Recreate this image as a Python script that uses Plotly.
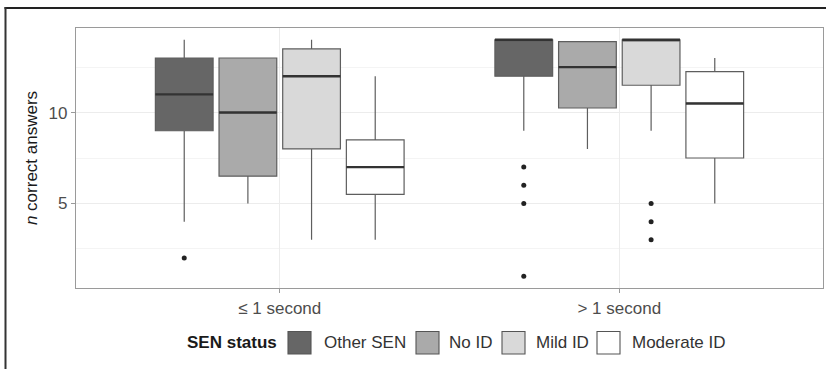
import plotly.graph_objects as go

# ---- data ----
groups = ["≤ 1 second", "> 1 second"]
statuses = ["Other SEN", "No ID", "Mild ID", "Moderate ID"]
fills = ["#666666", "#aaaaaa", "#d9d9d9", "#ffffff"]

# per status: [group1, group2]
q1 = {"Other SEN": [9, 12], "No ID": [6.5, 10.25], "Mild ID": [8, 11.5], "Moderate ID": [5.5, 7.5]}
median = {"Other SEN": [11, 14], "No ID": [10, 12.5], "Mild ID": [12, 14], "Moderate ID": [7, 10.5]}
q3 = {"Other SEN": [13, 14], "No ID": [13, 13.9], "Mild ID": [13.5, 14], "Moderate ID": [8.5, 12.25]}
lowf = {"Other SEN": [4, 9], "No ID": [5, 8], "Mild ID": [3, 9], "Moderate ID": [3, 5]}
upf = {"Other SEN": [14, 14], "No ID": [13, 13.9], "Mild ID": [14, 14], "Moderate ID": [12, 13]}
outliers = {
    "Other SEN": [[2], [7, 6, 5, 1]],
    "No ID": [[], []],
    "Mild ID": [[], [5, 4, 3]],
    "Moderate ID": [[], []],
}

dodge = 0.1875
box_w = 0.17

fig = go.Figure()
for i, s in enumerate(statuses):
    off = (i - 1.5) * dodge
    xs = [g + 1 + off for g in range(len(groups))]
    fig.add_trace(go.Box(
        x=xs, q1=q1[s], median=median[s], q3=q3[s],
        lowerfence=lowf[s], upperfence=upf[s],
        width=box_w, whiskerwidth=0,
        fillcolor=fills[i], line=dict(color="#5e5e5e", width=1.2),
        boxpoints=False, showlegend=False, hoverinfo="skip",
    ))
    # thicker median segments
    mx, my = [], []
    for g in range(len(groups)):
        mx += [xs[g] - box_w / 2, xs[g] + box_w / 2, None]
        my += [median[s][g], median[s][g], None]
    fig.add_trace(go.Scatter(x=mx, y=my, mode="lines",
                             line=dict(color="#333333", width=2.4),
                             showlegend=False, hoverinfo="skip"))
    ox, oy = [], []
    for g in range(len(groups)):
        ox += [xs[g]] * len(outliers[s][g])
        oy += outliers[s][g]
    if ox:
        fig.add_trace(go.Scatter(x=ox, y=oy, mode="markers",
                                 marker=dict(color="#222222", size=5),
                                 showlegend=False, hoverinfo="skip"))

# ---- layout ----
L, T, W, H = 76, 28, 747, 260
def px(x):
    return (x - L) / W
def py(y):
    return (T + H - y) / H

FONT = "Liberation Sans"
shapes = [
    dict(type="line", xref="paper", yref="paper", x0=px(4.5), x1=px(826), y0=py(8), y1=py(8),
         line=dict(color="#222222", width=2)),
    dict(type="line", xref="paper", yref="paper", x0=px(5.5), x1=px(5.5), y0=py(7), y1=py(369),
         line=dict(color="#333333", width=2)),
]
annotations = [
    dict(text="<b>SEN status</b>", xref="paper", yref="paper", x=px(185), y=py(342.5),
         xanchor="left", yanchor="middle", showarrow=False,
         font=dict(family=FONT, size=17, color="#1a1a1a")),
]
key_x = [288, 416, 502, 597]
lab_x = [321.5, 446.5, 533.5, 629.5]
for i, s in enumerate(statuses):
    shapes.append(dict(type="rect", xref="paper", yref="paper",
                       x0=px(key_x[i]), x1=px(key_x[i] + 23), y0=py(354), y1=py(331.5),
                       line=dict(color="#555555", width=1.1), fillcolor=fills[i]))
    annotations.append(dict(text=s, xref="paper", yref="paper", x=px(lab_x[i]), y=py(342.5),
                            xanchor="left", yanchor="middle", showarrow=False,
                            font=dict(family=FONT, size=17, color="#333333")))

fig.update_layout(
    width=832, height=369,
    margin=dict(l=L, r=832 - L - W, t=T, b=369 - T - H),
    paper_bgcolor="white", plot_bgcolor="white",
    boxmode="overlay",
    shapes=shapes, annotations=annotations,
    font=dict(family=FONT),
    xaxis=dict(range=[0.4, 2.6], tickvals=[1, 2], ticktext=groups,
               showgrid=True, gridcolor="#ececec", gridwidth=1,
               zeroline=False, showline=True, mirror=True, linecolor="#9a9a9a", linewidth=1.4,
               ticks="outside", ticklen=4, tickcolor="#9a9a9a",
               tickfont=dict(size=17, color="#4d4d4d")),
    yaxis=dict(range=[0.35, 14.65], tickvals=[5, 10],
               showgrid=True, gridcolor="#ececec", gridwidth=1,
               minor=dict(tickvals=[2.5, 7.5, 12.5], showgrid=True, gridcolor="#f4f4f4", gridwidth=0.8),
               zeroline=False, showline=True, mirror=True, linecolor="#9a9a9a", linewidth=1.4,
               ticks="outside", ticklen=4, tickcolor="#9a9a9a",
               tickfont=dict(size=17, color="#4d4d4d"),
               title=dict(text="<i>n</i> correct answers", font=dict(size=17, color="#1a1a1a"), standoff=6)),
)

fig.write_html("out.html", config={"displayModeBar": False},
               post_script="document.body.style.margin='0';document.body.style.overflow='hidden';")
